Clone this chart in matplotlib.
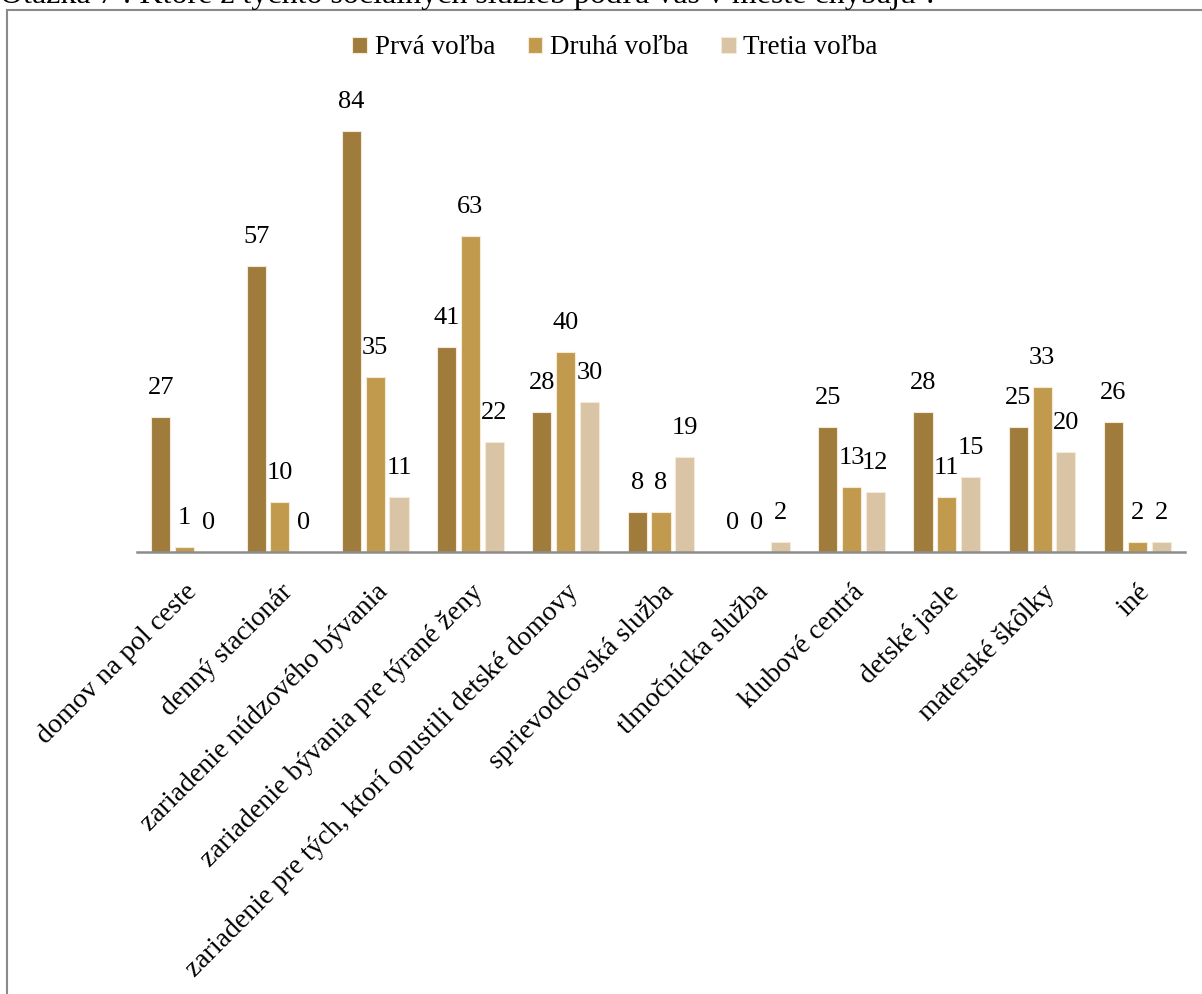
import numpy as np
import matplotlib
matplotlib.use("Agg")
import matplotlib.pyplot as plt
from matplotlib.patches import Rectangle

categories = [
    "domov na pol ceste",
    "denný stacionár",
    "zariadenie núdzového bývania",
    "zariadenie bývania pre týrané ženy",
    "zariadenie pre tých, ktorí opustili detské domovy",
    "sprievodcovská služba",
    "tlmočnícka služba",
    "klubové centrá",
    "detské jasle",
    "materské škôlky",
    "iné",
]
prva = [27, 57, 84, 41, 28, 8, 0, 25, 28, 25, 26]
druha = [1, 10, 35, 63, 40, 8, 0, 13, 11, 33, 2]
tretia = [0, 0, 11, 22, 30, 19, 2, 12, 15, 20, 2]
series_names = ["Prvá voľba", "Druhá voľba", "Tretia voľba"]
colors = ["#9f7b3c", "#c19a4e", "#d9c4a5"]
title = "Otázka 7 : Ktoré z týchto sociálnych služieb podľa vás v meste chýbajú ?"

plt.rcParams["font.family"] = ["Liberation Serif", "DejaVu Serif"]

W, H = 1202, 994
fig = plt.figure(figsize=(W / 100, H / 100), dpi=100)
ax = fig.add_axes([137 / W, 1 - 552 / H, (1185 - 137) / W, 451 / H])

x = np.arange(len(categories))
width = 0.2
step = 0.25
handles = []
for i, (vals, name, col) in enumerate(zip([prva, druha, tretia], series_names, colors)):
    pos = x + (i - 1) * step
    bars = ax.bar(pos, vals, width, color=col, edgecolor="#f3ead8", linewidth=0.8, label=name)
    handles.append(bars)
    for p, v in zip(pos, vals):
        ax.text(p, v + 3.6, str(v), ha="center", va="bottom", fontsize=19, color="black")

ax.set_xlim(-0.5, len(categories) - 0.5)
ax.set_ylim(0, 90)
ax.set_yticks([])
for s in ["top", "right", "left"]:
    ax.spines[s].set_visible(False)
ax.spines["bottom"].set_color("#8c8c8c")
ax.spines["bottom"].set_linewidth(1.8)
ax.tick_params(axis="x", length=0, pad=20)
ax.set_xticks(x)
ax.set_xticklabels(categories, rotation=45, ha="right", rotation_mode="anchor", fontsize=20)

fig.legend(handles=handles, labels=series_names, loc="center", bbox_to_anchor=(615 / W, 1 - 48 / H),
           ncol=3, frameon=False, fontsize=19.5, handlelength=0.55, handleheight=0.55,
           handletextpad=0.28, columnspacing=1.2)

fig.patches.append(Rectangle((7 / W, -0.05), 1.1, 1 - 10 / H + 0.05, transform=fig.transFigure,
                             fill=False, edgecolor="#8a8a8a", linewidth=1.5, clip_on=False))
# title is cut off by the top edge, as in the reference
fig.text(0.0, 1 - 3 / H, title, ha="left", va="baseline", fontsize=23)

fig.savefig("out.png", dpi=100)
